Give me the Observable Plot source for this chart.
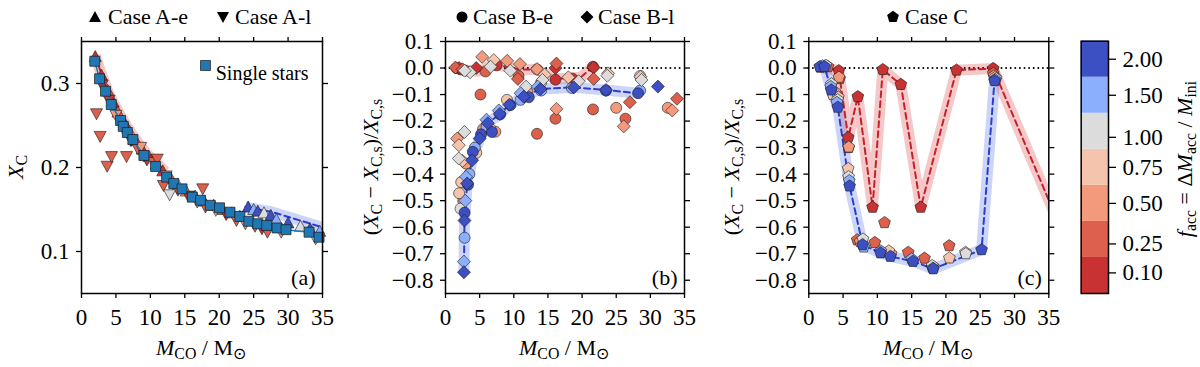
<!DOCTYPE html>
<html><head><meta charset="utf-8">
<script src="https://cdn.jsdelivr.net/npm/d3@7"></script>
<script src="https://cdn.jsdelivr.net/npm/@observablehq/plot@0.6"></script>
<style>
html,body{margin:0;padding:0;background:#fff;}
#root{position:relative;width:1200px;height:367px;overflow:hidden;font-family:"Liberation Serif","Times New Roman",serif;color:#000;}
.p{position:absolute;top:0;}
.t{position:absolute;font-size:22px;line-height:1;white-space:nowrap;width:max-content;}
sub{font-size:0.72em;vertical-align:-0.28em;line-height:0;}
</style></head><body><div id="root"></div>
<script>
// ---------- categories / colours ----------
const fVals = [0.1, 0.25, 0.5, 0.75, 1, 1.5, 2];
const fColors = ["#c83232", "#dd604c", "#f39a7c", "#f5c4ad", "#dcdcdc", "#8caffd", "#3d50c3"];
const cbBounds = [0, 0.175, 0.375, 0.625, 0.875, 1.25, 1.75, 2.25];
const xTicks = [0, 5, 10, 15, 20, 25, 30, 35];
const yTicksA = [0.1, 0.2, 0.3];
const yTicksBC = [0.1, 0.0, -0.1, -0.2, -0.3, -0.4, -0.5, -0.6, -0.7, -0.8];

// ---------- panel (a) ----------
const singleM = [1.93, 2.62, 3.49, 4.32, 5.67, 6.06, 6.65, 7.46, 9.06, 10.76, 12.36, 13.4, 14.6, 16.1, 17.3, 18.7, 20.05, 21.57, 23.0, 24.3, 25.6, 26.9, 28.4, 29.7, 33.05, 34.5];
const singleX = [0.3265, 0.3056, 0.2908, 0.275, 0.256, 0.249, 0.2417, 0.2333, 0.2143, 0.2012, 0.1885, 0.181, 0.1746, 0.1647, 0.161, 0.155, 0.152, 0.1468, 0.1417, 0.136, 0.133, 0.131, 0.128, 0.126, 0.123, 0.117];

const caseAeM = [2.0, 2.9, 3.8, 4.6, 5.3, 6.2, 7.0, 7.9, 8.8, 9.8, 10.9, 11.8, 13.0, 14.0, 15.2, 16.5, 17.8, 19.2, 20.5, 21.8, 23.0, 24.2, 25.0, 25.6, 26.5, 27.5, 28.3, 30.0, 31.8, 33.2, 34.6];
const caseAeX = [0.332, 0.310, 0.292, 0.278, 0.266, 0.254, 0.243, 0.232, 0.222, 0.213, 0.204, 0.196, 0.187, 0.180, 0.172, 0.166, 0.160, 0.155, 0.150, 0.146, 0.142, 0.153, 0.150, 0.148, 0.146, 0.143, 0.138, 0.134, 0.130, 0.127, 0.124];
const caseAeF = [0.1, 0.1, 0.25, 0.1, 0.25, 0.1, 0.5, 0.25, 0.1, 0.25, 0.5, 0.1, 0.25, 0.75, 0.5, 0.25, 0.1, 0.75, 0.25, 0.5, 0.1, 2, 1.5, 2, 1, 2, 1.5, 2, 1, 2, 1.5];

const caseAlM = [3.0, 4.0, 5.0, 6.0, 7.2, 8.2, 9.5, 10.5, 11.0, 12.3, 14.0, 15.5, 16.8, 18.0, 19.5, 21.0, 22.5, 23.8, 25.2, 26.2, 29.0, 34.0, 2.18, 2.71, 3.73, 4.36, 6.54, 8.6, 11.9, 12.8, 17.6, 27.0];
const caseAlX = [0.298, 0.280, 0.262, 0.247, 0.232, 0.222, 0.209, 0.206, 0.210, 0.190, 0.173, 0.166, 0.159, 0.153, 0.149, 0.144, 0.137, 0.133, 0.130, 0.127, 0.123, 0.115, 0.264, 0.237, 0.2015, 0.213, 0.213, 0.224, 0.1786, 0.1675, 0.1746, 0.123];
const caseAlF = [0.1, 0.1, 0.5, 0.25, 0.1, 0.25, 0.1, 0.25, 0.25, 0.5, 0.25, 0.1, 0.5, 0.25, 0.75, 0.1, 0.25, 0.5, 0.25, 0.1, 0.5, 0.75, 0.25, 0.25, 0.25, 0.25, 0.25, 0.5, 0.25, 1, 0.25, 0.25];

const lineA01M = [2.0, 2.9, 4.0, 5.3, 6.5, 7.9, 9.3, 10.9, 12.2];
const lineA01X = [0.333, 0.311, 0.287, 0.267, 0.250, 0.233, 0.218, 0.205, 0.195];
const lineA2M = [23.8, 25.6, 27.7, 30.9, 34.9];
const lineA2X = [0.153, 0.150, 0.147, 0.139, 0.129];

// ---------- panel (b) ----------
const caseBeM = [2.8, 2.8, 3.3, 3.5, 4.0, 4.3, 5.2, 6.8, 6.0, 8.0, 9.5, 11.0, 12.2, 14.0, 18.5, 23.5, 28.2, 28.5,
  2.3, 2.0, 2.2, 2.6, 3.0, 4.5, 5.5, 6.6, 7.3, 9.0, 12.0, 14.0,
  5.12, 13.4, 16.1, 21.6, 25.0, 26.35, 32.55, 1.6, 2.2, 2.9, 5.86, 7.5, 10.7, 13.4, 16.1, 18.6, 21.6, 28.5];
const caseBeY = [-0.545, -0.64, -0.44, -0.40, -0.316, -0.30, -0.25, -0.241, -0.22, -0.175, -0.14, -0.12, -0.11, -0.085, -0.075, -0.085, -0.095, -0.085,
  -0.43, -0.472, -0.53, -0.50, -0.36, -0.32, -0.23, -0.23, -0.24, -0.12, -0.09, -0.055,
  -0.10, -0.248, -0.191, -0.156, -0.15, -0.191, -0.15, 0.0, -0.005, -0.01, -0.013, 0.01, -0.03, -0.005, -0.044, -0.04, 0.005, -0.03];
const caseBeF = [2, 1.5, 2, 1.5, 2, 1.5, 2, 2, 1.5, 2, 2, 1.5, 2, 1.5, 1.5, 2, 2, 1.5,
  0.75, 0.75, 1, 0.5, 0.5, 0.75, 0.5, 0.75, 0.5, 0.75, 0.5, 0.75,
  0.25, 0.25, 0.25, 0.25, 0.5, 0.25, 0.5, 0.25, 0.1, 0.25, 0.25, 0.1, 0.25, 0.75, 0.1, 0.1, 0.1, 1];

const caseBlM = [2.7, 2.7, 2.78, 2.9, 3.17, 3.0, 3.9, 5.0, 6.2, 6.0, 7.95, 7.8, 9.37, 11.47, 11.0, 13.9, 13.5, 18.8, 23.5, 31.1,
  1.7, 1.95, 2.78, 1.95, 2.5, 3.6, 2.8, 5.37, 7.07, 6.6, 9.03, 9.5, 10.9, 11.8, 13.4, 14.5, 14.2, 18.0, 19.5, 23.7, 23.8, 28.55, 28.7, 16.25, 26.1, 33.2,
  1.46, 2.0, 2.5, 10.6, 16.25, 21.7, 21.7, 27.0, 33.9, 4.5, 16.1];
const caseBlY = [-0.77, -0.73, -0.575, -0.50, -0.435, -0.41, -0.348, -0.266, -0.208, -0.195, -0.173, -0.16, -0.138, -0.108, -0.095, -0.079, -0.07, -0.073, -0.083, -0.07,
  -0.266, -0.291, -0.241, -0.341, -0.35, -0.016, -0.01, 0.042, 0.03, 0.005, 0.027, -0.01, 0.015, -0.07, -0.004, -0.025, -0.045, -0.035, -0.05, -0.029, -0.02, -0.033, -0.045, -0.154, -0.22, -0.16,
  0.002, 0.0, -0.005, -0.041, 0.017, 0.002, -0.041, -0.129, -0.116, 0.0, 0.0];
const caseBlF = [2, 1.5, 2, 1.5, 2, 1.5, 2, 2, 2, 1.5, 2, 1.5, 2, 2, 1.5, 2, 1.5, 2, 2, 2,
  0.5, 0.75, 1, 1, 0.75, 1, 1, 0.5, 0.75, 1, 0.5, 1, 0.5, 1, 0.5, 0.75, 1, 0.75, 1, 1, 0.75, 0.75, 1, 0.5, 0.5, 0.5,
  0.25, 0.1, 0.25, 0.25, 0.25, 0.1, 0.25, 0.25, 0.25, 0.1, 0.1];

const lineB01M = [1.5, 2.5, 3.5, 5.0, 6.5, 7.8, 9.0, 11.0, 13.4, 16.1, 19.8, 21.5];
const lineB01Y = [0.0, -0.005, -0.01, -0.012, 0.008, 0.011, 0.004, -0.006, -0.005, -0.041, -0.035, 0.002];
const lineB2M = [2.7, 2.78, 3.17, 3.9, 5.0, 6.2, 7.95, 9.37, 11.47, 13.9, 18.8, 23.5, 28.2];
const lineB2Y = [-0.77, -0.575, -0.435, -0.348, -0.266, -0.208, -0.173, -0.138, -0.108, -0.079, -0.073, -0.083, -0.095];

// ---------- panel (c) ----------
const caseCM = [1.7, 4.37, 5.75, 7.15, 9.3, 10.79, 13.42, 16.33, 21.54, 26.89,
  2.8, 4.5, 9.63, 11.04, 14.5, 16.87, 20.47, 26.9, 5.8, 7.06, 18.0,
  4.4, 5.83, 7.5, 12.0, 18.2, 27.0, 3.8,
  3.5, 4.3, 5.75, 11.67, 20.5, 22.85, 27.2,
  2.5, 3.3, 4.2, 5.8, 7.9, 18.0, 22.9, 27.3,
  2.0, 3.2, 4.1, 5.9, 8.0, 10.5, 15.0, 18.1, 27.2,
  1.6, 2.3, 3.27, 4.23, 5.95, 7.85, 10.46, 11.9, 15.2, 18.15, 25.2, 27.08];
const caseCY = [0.003, -0.01, -0.262, -0.108, -0.525, -0.006, -0.062, -0.525, -0.008, -0.002,
  0.005, -0.04, -0.658, -0.583, -0.695, -0.717, -0.67, -0.02, -0.30, -0.648, -0.75,
  -0.035, -0.298, -0.655, -0.70, -0.75, -0.03, -0.09,
  -0.10, -0.11, -0.379, -0.69, -0.716, -0.695, -0.035,
  0.01, -0.06, -0.12, -0.41, -0.645, -0.745, -0.70, -0.04,
  0.008, -0.07, -0.13, -0.425, -0.675, -0.69, -0.72, -0.755, -0.045,
  0.005, 0.005, -0.083, -0.148, -0.445, -0.666, -0.697, -0.71, -0.729, -0.757, -0.685, -0.048];
const caseCF = [0.1, 0.1, 0.1, 0.1, 0.1, 0.1, 0.1, 0.1, 0.1, 0.1,
  0.25, 0.25, 0.25, 0.25, 0.25, 0.25, 0.25, 0.25, 0.25, 0.25, 0.25,
  0.5, 0.5, 0.5, 0.5, 0.5, 0.5, 0.5,
  0.75, 0.75, 0.75, 0.75, 0.75, 0.75, 0.75,
  1, 1, 1, 1, 1, 1, 1, 1,
  1.5, 1.5, 1.5, 1.5, 1.5, 1.5, 1.5, 1.5, 1.5,
  2, 2, 2, 2, 2, 2, 2, 2, 2, 2, 2, 2];

const lineC01M = [1.7, 4.37, 5.75, 7.15, 9.3, 10.79, 13.42, 16.33, 21.54, 26.89, 36.5];
const lineC01Y = [0.003, -0.01, -0.262, -0.108, -0.525, -0.006, -0.062, -0.525, -0.008, -0.002, -0.59];
const lineC2M = [1.6, 2.3, 3.27, 4.23, 5.95, 7.85, 10.46, 11.9, 15.2, 18.15, 25.2, 27.08];
const lineC2Y = [0.005, 0.005, -0.083, -0.148, -0.445, -0.666, -0.697, -0.71, -0.729, -0.757, -0.685, -0.048];

// ---------- helpers ----------
const rows = (M, Y, F) => M.map((m, i) => ({m, y: Y[i], f: F ? F[i] : null}));
function polySym(pts) {
  return {draw(ctx) { ctx.moveTo(pts[0][0], pts[0][1]); for (let i = 1; i < pts.length; ++i) ctx.lineTo(pts[i][0], pts[i][1]); ctx.closePath(); }, pts};
}
const triUp = polySym([[0, -6], [6, 5], [-6, 5]]);
const triDown = polySym([[0, 6], [6, -5], [-6, -5]]);
const diamondSym = polySym([[0, -6.5], [6.5, 0], [0, 6.5], [-6.5, 0]]);
const squareSym = polySym([[-5, -5], [5, -5], [5, 5], [-5, 5]]);
const pentSym = polySym([0, 1, 2, 3, 4].map(k => { const a = -Math.PI / 2 + k * 2 * Math.PI / 5; return [6.2 * Math.cos(a), 6.2 * Math.sin(a)]; }));

const redLine = "#c8202a", blueLine = "#2a3fcf", bandRed = "#e06060", bandBlue = "#6c84e8";
const tabBlue = "#1f77b4";
const edge = "#1a1a1a";
const FONT = '"Liberation Serif", "Times New Roman", serif';
const fontStyle = `font-family: ${FONT}; font-size: 22px; background: transparent; overflow: visible; color: black;`;
const fmt1 = d3.format(".1f");

function band(data, color, clip) {
  return Plot.line(data, {x: "m", y: "y", stroke: color, strokeOpacity: 0.35, strokeWidth: 11, strokeLinejoin: "round", strokeLinecap: "butt", clip});
}
function dashed(data, color, clip) {
  return Plot.line(data, {x: "m", y: "y", stroke: color, strokeWidth: 2, strokeDasharray: "6,4", clip});
}
function pts(data, symbol, extra = {}) {
  return Plot.dot(data, {x: "m", y: "y", fill: "f", symbol, r: 5.5, stroke: edge, strokeWidth: 0.6, ...extra});
}

function panel({width, ml, mr, yDomain, yTicks, letter, marks}) {
  return Plot.plot({
    width, height: 367, marginTop: 41, marginBottom: 74, marginLeft: ml, marginRight: mr,
    x: {domain: [0, 35]},
    y: {domain: yDomain},
    color: {type: "ordinal", domain: fVals, range: fColors},
    style: fontStyle,
    marks: [
      ...marks,
      // tick marks on all four sides
      Plot.axisX({ticks: xTicks, tickSize: 5, tickFormat: () => "", label: null, strokeWidth: 1.3}),
      Plot.axisX({anchor: "top", ticks: xTicks, tickSize: 5, tickFormat: () => "", label: null, strokeWidth: 1.3}),
      Plot.axisY({ticks: yTicks, tickSize: 5, tickFormat: () => "", label: null, strokeWidth: 1.3}),
      Plot.axisY({anchor: "right", ticks: yTicks, tickSize: 5, tickFormat: () => "", label: null, strokeWidth: 1.3}),
      // tick labels (serif)
      Plot.text(xTicks, {x: d => d, text: d => String(d), frameAnchor: "bottom", lineAnchor: "top", dy: 15, fontFamily: FONT, fontSize: 23}),
      Plot.text(yTicks, {y: d => d, text: d => fmt1(d), frameAnchor: "left", textAnchor: "end", dx: -12, fontFamily: FONT, fontSize: 23}),
      Plot.text([letter], {text: d => d, frameAnchor: "bottom-right", textAnchor: "end", lineAnchor: "bottom", dx: -7, dy: -9, fontFamily: FONT, fontSize: 22}),
      Plot.frame({stroke: "black", strokeWidth: 1.5})
    ]
  });
}

const root = document.getElementById("root");
function addPlot(svg, left, width) {
  const d = document.createElement("div"); d.className = "p";
  d.style.left = left + "px"; d.style.width = width + "px";
  d.appendChild(svg); root.appendChild(d);
}
function addText(html, css) {
  const d = document.createElement("div"); d.className = "t"; d.innerHTML = html;
  Object.assign(d.style, css); root.appendChild(d);
}
function icon(sym, cx, cy, circle) {
  const s = document.createElementNS("http://www.w3.org/2000/svg", "svg");
  s.setAttribute("width", 16); s.setAttribute("height", 16);
  s.style.position = "absolute"; s.style.left = (cx - 8) + "px"; s.style.top = (cy - 8) + "px";
  if (circle) s.innerHTML = `<circle cx="8" cy="8" r="5.5" fill="black"/>`;
  else s.innerHTML = `<path transform="translate(8,8)" fill="black" d="M${sym.pts.map(p => p.join(",")).join("L")}Z"/>`;
  root.appendChild(s);
}

// ---------- panel (a) ----------
const plotA = panel({
  width: 340, ml: 81, mr: 18, yDomain: [0.05, 0.35], yTicks: yTicksA, letter: "(a)",
  marks: [
    band(rows(lineA01M, lineA01X), bandRed),
    band(rows(lineA2M, lineA2X), bandBlue),
    dashed(rows(lineA01M, lineA01X), redLine),
    dashed(rows(lineA2M, lineA2X), blueLine),
    pts(rows(caseAeM, caseAeX, caseAeF), triUp),
    pts(rows(caseAlM, caseAlX, caseAlF), triDown),
    Plot.line(rows(singleM, singleX), {x: "m", y: "y", stroke: tabBlue, strokeWidth: 1.5}),
    Plot.dot(rows(singleM, singleX), {x: "m", y: "y", symbol: squareSym, fill: tabBlue, stroke: edge, strokeWidth: 0.7}),
    Plot.dot([0], {frameAnchor: "top-right", dx: -117, dy: 24, symbol: squareSym, fill: tabBlue, stroke: edge, strokeWidth: 0.7}),
    Plot.text(["Single stars"], {text: d => d, frameAnchor: "top-right", textAnchor: "end", dx: -14, dy: 24, fontFamily: FONT, fontSize: 20})
  ]
});
addPlot(plotA, 0, 340);

// ---------- panel (b) ----------
const plotB = panel({
  width: 360, ml: 105, mr: 16, yDomain: [-0.85, 0.1], yTicks: yTicksBC, letter: "(b)",
  marks: [
    band(rows(lineB01M, lineB01Y), bandRed),
    band(rows(lineB2M, lineB2Y), bandBlue),
    Plot.ruleY([0], {stroke: "black", strokeWidth: 2, strokeDasharray: "0,4.6", strokeLinecap: "round"}),
    dashed(rows(lineB01M, lineB01Y), redLine),
    dashed(rows(lineB2M, lineB2Y), blueLine),
    pts(rows(caseBeM, caseBeY, caseBeF), "circle", {sort: "f"}),
    pts(rows(caseBlM, caseBlY, caseBlF), diamondSym, {sort: "f"})
  ]
});
addPlot(plotB, 340, 360);

// ---------- panel (c) ----------
const plotC = panel({
  width: 380, ml: 108.3, mr: 31.7, yDomain: [-0.85, 0.1], yTicks: yTicksBC, letter: "(c)",
  marks: [
    band(rows(lineC01M, lineC01Y), bandRed, true),
    band(rows(lineC2M, lineC2Y), bandBlue, true),
    Plot.ruleY([0], {stroke: "black", strokeWidth: 2, strokeDasharray: "0,4.6", strokeLinecap: "round"}),
    dashed(rows(lineC01M, lineC01Y), redLine, true),
    dashed(rows(lineC2M, lineC2Y), blueLine, true),
    pts(rows(caseCM, caseCY, caseCF), pentSym)
  ]
});
addPlot(plotC, 700, 380);

// ---------- colour bar (uniform segments, boundary-norm style) ----------
const cbIndex = d3.scaleLinear().domain(cbBounds).range(d3.range(cbBounds.length));
const cbRows = fVals.map((f, i) => ({f, lo: cbIndex(cbBounds[i]), hi: cbIndex(cbBounds[i + 1])}));
const plotCB = Plot.plot({
  width: 160, height: 367, marginTop: 40.7, marginBottom: 74, marginLeft: 40.7, marginRight: 92,
  x: {domain: [0, 1], axis: null},
  y: {domain: [0, cbBounds.length - 1]},
  color: {type: "ordinal", domain: fVals, range: fColors},
  style: fontStyle,
  marks: [
    Plot.rect(cbRows, {x1: 0, x2: 1, y1: "lo", y2: "hi", fill: "f"}),
    Plot.axisY({anchor: "right", ticks: fVals.map(cbIndex), tickFormat: () => "", tickSize: 7, label: null, strokeWidth: 1.3}),
    Plot.text(fVals, {y: d => cbIndex(d), text: d => d3.format(".2f")(d), frameAnchor: "right", textAnchor: "start", dx: 14, fontFamily: FONT, fontSize: 23}),
    Plot.frame({stroke: "black", strokeWidth: 1.5})
  ]
});
addPlot(plotCB, 1040, 160);

// ---------- texts ----------
const xl = `<i>M</i><sub>CO</sub> / M<sub>⊙</sub>`;
addText(xl, {left: "201px", top: "337px", transform: "translateX(-50%)"});
addText(xl, {left: "564px", top: "337px", transform: "translateX(-50%)"});
addText(xl, {left: "928px", top: "337px", transform: "translateX(-50%)"});
addText(`<i>X</i><sub>C</sub>`, {left: "16px", top: "167px", transform: "translate(-50%,-50%) rotate(-90deg)"});
const yl = `(<i>X</i><sub>C</sub> − <i>X</i><sub>C,s</sub>)/<i>X</i><sub>C,s</sub>`;
addText(yl, {left: "371px", top: "167px", transform: "translate(-50%,-50%) rotate(-90deg)"});
addText(yl, {left: "732px", top: "167px", transform: "translate(-50%,-50%) rotate(-90deg)"});
addText(`<i>f</i><sub>acc</sub> = Δ<i>M</i><sub>acc</sub> / <i>M</i><sub>ini</sub>`, {left: "1185px", top: "159px", transform: "translate(-50%,-50%) rotate(-90deg)"});

// legends above panels
icon(triUp, 95, 17); addText("Case A-e", {left: "108px", top: "6px"});
icon(triDown, 223, 17); addText("Case A-l", {left: "235px", top: "6px"});
icon(null, 462, 17, true); addText("Case B-e", {left: "473px", top: "6px"});
icon(diamondSym, 587, 17); addText("Case B-l", {left: "598px", top: "6px"});
icon(pentSym, 893, 17); addText("Case C", {left: "905px", top: "6px"});
</script></body></html>
